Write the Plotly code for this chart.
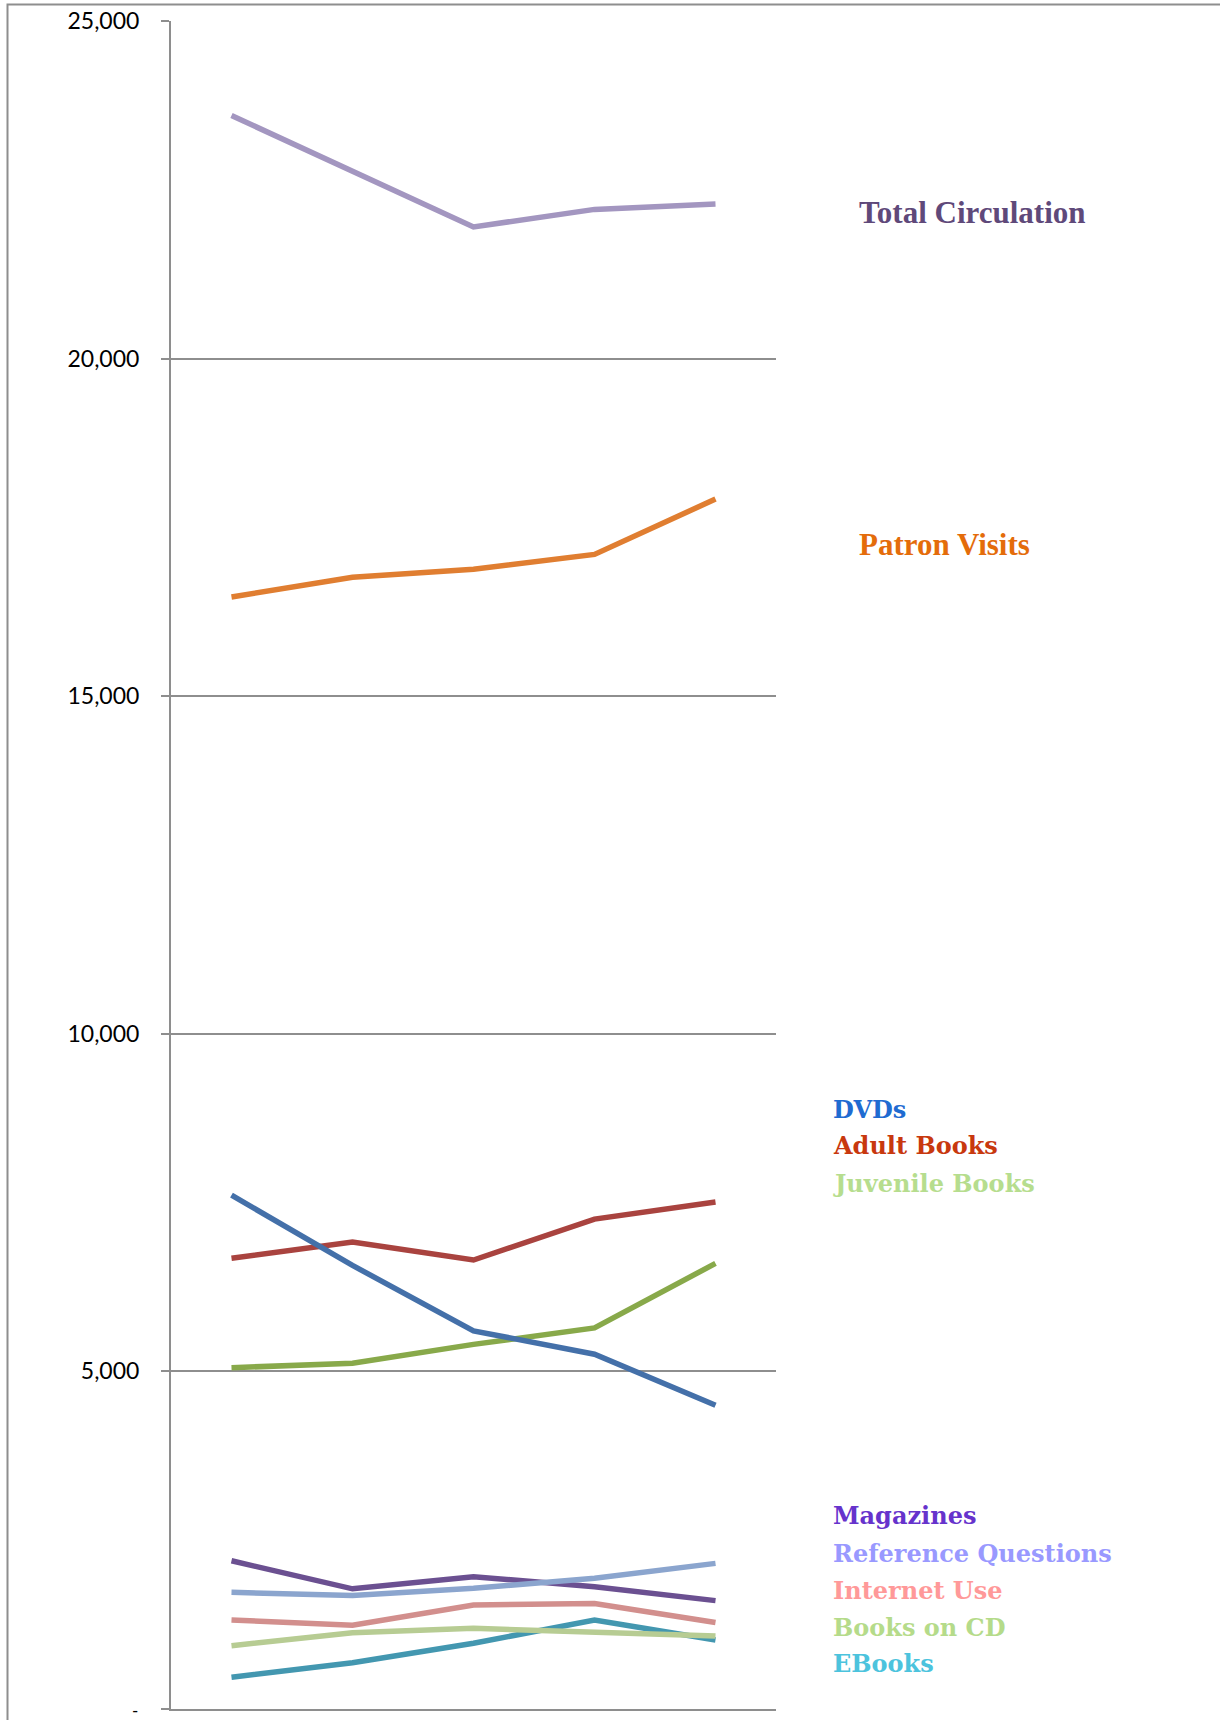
import plotly.graph_objects as go

# ---- data ----
periods = ["P1", "P2", "P3", "P4", "P5"]

total_circulation = [23600, 22770, 21950, 22210, 22290]
patron_visits = [16470, 16760, 16880, 17100, 17920]
dvds = [7610, 6570, 5600, 5255, 4500]
adult_books = [6675, 6915, 6650, 7255, 7510]
juvenile_books = [5055, 5120, 5400, 5645, 6600]
magazines = [2195, 1780, 1960, 1810, 1605]
reference_questions = [1728, 1680, 1787, 1935, 2157]
internet_use = [1318, 1240, 1540, 1563, 1280]
books_on_cd = [938, 1128, 1195, 1145, 1082]
ebooks = [470, 686, 973, 1318, 1022]

y_tickvals = [0, 5000, 10000, 15000, 20000, 25000]
y_ticktext = ["", "5,000", "10,000", "15,000", "20,000", "25,000"]
zero_label = "-"

W, H = 1220, 1720
L, R, T, B = 171, 444, 21, 11
pw, ph = W - L - R, H - T - B


def px_x(x):
    return (x - L) / pw


def px_y(y):
    return 1 - (y - T) / ph


# series: (name, values, line colour, label colour, label centre y [pixels], font group)
series = [
    ("Total Circulation", total_circulation, "#A396C0", "#5F497A", 213, "big"),
    ("Patron Visits", patron_visits, "#E07E31", "#E46C0A", 544, "big"),
    ("Adult Books", adult_books, "#A9433F", "#C8380E", 1145, "small"),
    ("Juvenile Books", juvenile_books, "#88A94A", "#B6DD8E", 1183, "small"),
    ("DVDs", dvds, "#4470A9", "#1F6BD1", 1109, "small"),
    ("Magazines", magazines, "#6B5091", "#6633CC", 1515, "small"),
    ("Reference Questions", reference_questions, "#8BA5CE", "#9999FF", 1553, "small"),
    ("Internet Use", internet_use, "#D28F8D", "#FF9999", 1590, "small"),
    ("EBooks", ebooks, "#4397B0", "#4CC3DD", 1663, "small"),
    ("Books on CD", books_on_cd, "#B7CC93", "#B5DB8A", 1627, "small"),
]

fig = go.Figure()
annotations = []
for name, vals, lc, tc, ly, grp in series:
    fig.add_trace(go.Scatter(x=periods, y=vals, mode="lines", name=name,
                             line=dict(color=lc, width=5.5), showlegend=False))
    if grp == "big":
        ax = px_x(857)
        font = dict(family="Liberation Serif", size=31, color=tc)
    else:
        ax = px_x(831)
        font = dict(family="DejaVu Serif", size=24, color=tc)
    annotations.append(dict(x=ax, y=px_y(ly), xref="paper", yref="paper", text="<b>%s</b>" % name,
                            showarrow=False, xanchor="left", yanchor="middle", font=font))

# zero tick label ("-"), kept small so it stays inside the page
annotations.append(dict(x=px_x(140), y=0, xref="paper", yref="y", text=zero_label,
                        showarrow=False, xanchor="right", yanchor="middle", yshift=-1,
                        font=dict(family="Lato", size=17, color="black")))

grey = "#8E8E8E"
fig.update_layout(
    width=W, height=H,
    margin=dict(l=L, r=R, t=T, b=B, pad=0, autoexpand=False),
    paper_bgcolor="white", plot_bgcolor="white",
    annotations=annotations,
    shapes=[dict(type="rect", xref="paper", yref="paper",
                 x0=px_x(7.5), x1=px_x(1230),
                 y0=px_y(1730), y1=px_y(4.5),
                 line=dict(color=grey, width=2), fillcolor="rgba(0,0,0,0)", layer="below")],
)
fig.update_xaxes(type="category", range=[-0.5, 4.5], showticklabels=False, ticks="",
                 automargin=False,
                 showgrid=False, zeroline=False, showline=True, linecolor=grey, linewidth=2)
fig.update_yaxes(range=[0, 25000], tickvals=y_tickvals, ticktext=y_ticktext,
                 automargin=False,
                 showgrid=True, gridcolor=grey, gridwidth=1.5, zeroline=False,
                 showline=True, linecolor=grey, linewidth=2,
                 ticks="outside", ticklen=8, tickcolor=grey, tickwidth=1.5,
                 ticklabelstandoff=17, ticklabeloverflow="allow",
                 tickfont=dict(family="Lato", size=23, color="black"))

fig.write_html("out.html")
